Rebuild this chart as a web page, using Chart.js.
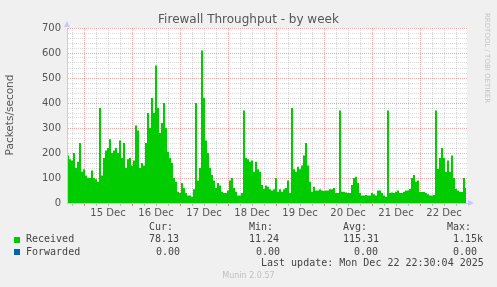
<!DOCTYPE html>
<html lang="en">
<head>
  <meta charset="UTF-8">
  <title>Firewall Throughput - by week</title>
  <script src="https://cdn.jsdelivr.net/npm/chart.js"></script>
  <style>
    body { margin: 0; background: #f0f0f0; }
    #wrap { position: relative; width: 497px; height: 287px; background: #f0f0f0; overflow: hidden; }
    #wrap canvas { position: absolute; left: 0; top: 0; }
    .txt { position: absolute; white-space: pre; color: #444; font: 10px 'DejaVu Sans Mono', monospace; line-height: 12px; }
    .box { position: absolute; width: 6px; height: 6px; }
  </style>
</head>
<body>
  <div id="wrap">
    <canvas id="chart" width="497" height="287"></canvas>

    <div class="txt" style="left:0;width:497px;top:12px;text-align:center;font:12px 'DejaVu Sans';line-height:14px;color:#555">Firewall Throughput - by week</div>
    <div class="txt" style="left:-36px;top:109px;width:90px;text-align:center;font:10.5px 'DejaVu Sans';color:#555;transform:rotate(-90deg)">Packets/second</div>
    <div class="txt" style="left:483px;top:13px;font:7px 'DejaVu Sans';color:#c4c4c4;writing-mode:vertical-rl">RRDTOOL / TOBI OETIKER</div>

    <!-- legend / stats -->
    <div class="txt" style="left:149px;top:221px">Cur:</div>
    <div class="txt" style="left:249px;top:221px">Min:</div>
    <div class="txt" style="left:343px;top:221px">Avg:</div>
    <div class="txt" style="left:447px;top:221px">Max:</div>

    <div class="box" style="left:14px;top:237px;background:#00cc00"></div>
    <div class="txt" style="left:26px;top:233px">Received</div>
    <div class="txt" style="left:149px;top:233px">78.13</div>
    <div class="txt" style="left:249px;top:233px">11.24</div>
    <div class="txt" style="left:343px;top:233px">115.31</div>
    <div class="txt" style="left:453px;top:233px">1.15k</div>

    <div class="box" style="left:14px;top:249px;background:#0066b3"></div>
    <div class="txt" style="left:26px;top:246px">Forwarded</div>
    <div class="txt" style="left:156px;top:246px">0.00</div>
    <div class="txt" style="left:256px;top:246px">0.00</div>
    <div class="txt" style="left:354px;top:246px">0.00</div>
    <div class="txt" style="left:453px;top:246px">0.00</div>

    <div class="txt" style="left:261px;top:257px">Last update: Mon Dec 22 22:30:04 2025</div>
    <div class="txt" style="left:0;width:497px;top:271px;text-align:center;font:8px 'DejaVu Sans';color:#c0c0c0">Munin 2.0.57</div>
  </div>

  <script>
    // hours are counted from 15 Dec 00:00, one sample per hour
    const startHour = -8;
    const dayLabels = ['15 Dec', '16 Dec', '17 Dec', '18 Dec', '19 Dec', '20 Dec', '21 Dec', '22 Dec'];
    const yTicks = [0, 100, 200, 300, 400, 500, 600, 700];

    // Received packets/second, 14 Dec 16:00 -> 22 Dec 23:00
    const received = [
      190, 175, 170, 200, 140, 165, 240, 125,
      // 15 Dec
      135, 110, 100, 100, 130, 100, 95, 85, 380, 110, 180, 210,
      220, 255, 200, 210, 220, 200, 250, 180, 240, 140, 175, 180,
      // 16 Dec
      150, 170, 310, 290, 140, 160, 150, 240, 360, 300, 420, 360,
      550, 380, 280, 320, 400, 300, 205, 180, 160, 100, 85, 45,
      // 17 Dec
      40, 80, 60, 40, 30, 30, 25, 55, 400, 90, 140, 610,
      420, 250, 200, 140, 112, 90, 60, 80, 70, 45, 40, 40,
      // 18 Dec
      50, 90, 100, 60, 45, 30, 30, 40, 370, 180, 175, 165,
      170, 125, 165, 135, 125, 72, 56, 70, 65, 55, 50, 55,
      // 19 Dec
      100, 45, 55, 45, 55, 60, 90, 40, 380, 135, 125, 145,
      135, 150, 190, 240, 150, 84, 45, 65, 50, 50, 55, 50,
      // 20 Dec
      48, 50, 50, 55, 55, 60, 40, 40, 370, 45, 45, 42,
      40, 40, 72, 100, 105, 80, 40, 30, 30, 32, 30, 30,
      // 21 Dec
      40, 35, 30, 50, 50, 40, 30, 25, 370, 40, 42, 40,
      45, 50, 40, 40, 45, 50, 50, 56, 100, 112, 85, 90,
      // 22 Dec
      44, 44, 44, 40, 35, 30, 30, 32, 370, 136, 180, 220,
      180, 124, 170, 124, 190, 100, 56, 50, 45, 44, 100, 60
    ];

    const majorGrid = 'rgba(225, 90, 90, 0.5)';
    const minorGrid = 'rgba(150, 150, 150, 0.35)';
    const axisColor = '#c8c8ff';

    // white plot canvas + rrdtool style arrows on the axes
    const muninFrame = {
      id: 'muninFrame',
      beforeDraw(chart) {
        const a = chart.chartArea, ctx = chart.ctx;
        ctx.save();
        ctx.fillStyle = '#ffffff';
        ctx.fillRect(a.left, a.top, a.right - a.left, a.bottom - a.top);
        ctx.restore();
      },
      afterDraw(chart) {
        const a = chart.chartArea, ctx = chart.ctx;
        ctx.save();
        ctx.fillStyle = axisColor;
        ctx.beginPath();
        ctx.moveTo(a.left, a.top - 7);
        ctx.lineTo(a.left - 3, a.top - 1);
        ctx.lineTo(a.left + 3, a.top - 1);
        ctx.fill();
        ctx.beginPath();
        ctx.moveTo(a.right + 7, a.bottom);
        ctx.lineTo(a.right + 1, a.bottom - 3);
        ctx.lineTo(a.right + 1, a.bottom + 3);
        ctx.fill();
        ctx.restore();
      }
    };

    Chart.defaults.font.family = 'DejaVu Sans';
    Chart.defaults.font.size = 10;
    Chart.defaults.color = '#555';

    new Chart(document.getElementById('chart'), {
      type: 'line',
      data: {
        datasets: [{
          label: 'Received',
          data: received.map((v, i) => ({ x: startHour + i, y: v })),
          borderColor: '#00cc00',
          backgroundColor: '#00cc00',
          borderWidth: 0,
          fill: 'origin',
          stepped: 'middle',
          pointRadius: 0
        }]
      },
      options: {
        responsive: false,
        animation: false,
        layout: { padding: { left: 0, top: 28, right: 30, bottom: 0 } },
        plugins: { legend: { display: false }, tooltip: { enabled: false } },
        scales: {
          x: {
            type: 'linear',
            min: -8.5,
            max: 191.5,
            afterFit(scale) { scale.height = 84; },
            afterBuildTicks(scale) {
              const t = [];
              for (let h = -6; h <= 186; h += 6) t.push({ value: h });
              scale.ticks = t;
            },
            ticks: {
              autoSkip: false,
              maxRotation: 0,
              padding: 1,
              color: '#555',
              callback: v => (v % 24 === 12 ? dayLabels[(v - 12) / 24] : '')
            },
            grid: {
              color: c => (c.tick && c.tick.value % 24 === 0 ? majorGrid : minorGrid),
              tickColor: c => (c.tick && c.tick.value % 24 === 0 ? 'rgba(225,90,90,0.8)' : 'rgba(150,150,150,0.6)'),
              tickLength: 3,
              lineWidth: 1
            },
            border: { color: axisColor, width: 1, dash: [1, 1] }
          },
          y: {
            min: 0,
            max: 700,
            afterFit(scale) { scale.width = 67; },
            afterBuildTicks(scale) {
              const t = [];
              for (let v = 0; v <= 700; v += 20) t.push({ value: v });
              scale.ticks = t;
            },
            ticks: {
              autoSkip: false,
              padding: 6,
              color: '#555',
              callback: v => (yTicks.includes(v) ? String(v) : '')
            },
            grid: {
              color: c => (c.tick && c.tick.value % 100 === 0 ? majorGrid : minorGrid),
              drawTicks: false,
              lineWidth: 1
            },
            border: { color: axisColor, width: 1, dash: [1, 1] }
          }
        }
      },
      plugins: [muninFrame]
    });
  </script>
</body>
</html>
